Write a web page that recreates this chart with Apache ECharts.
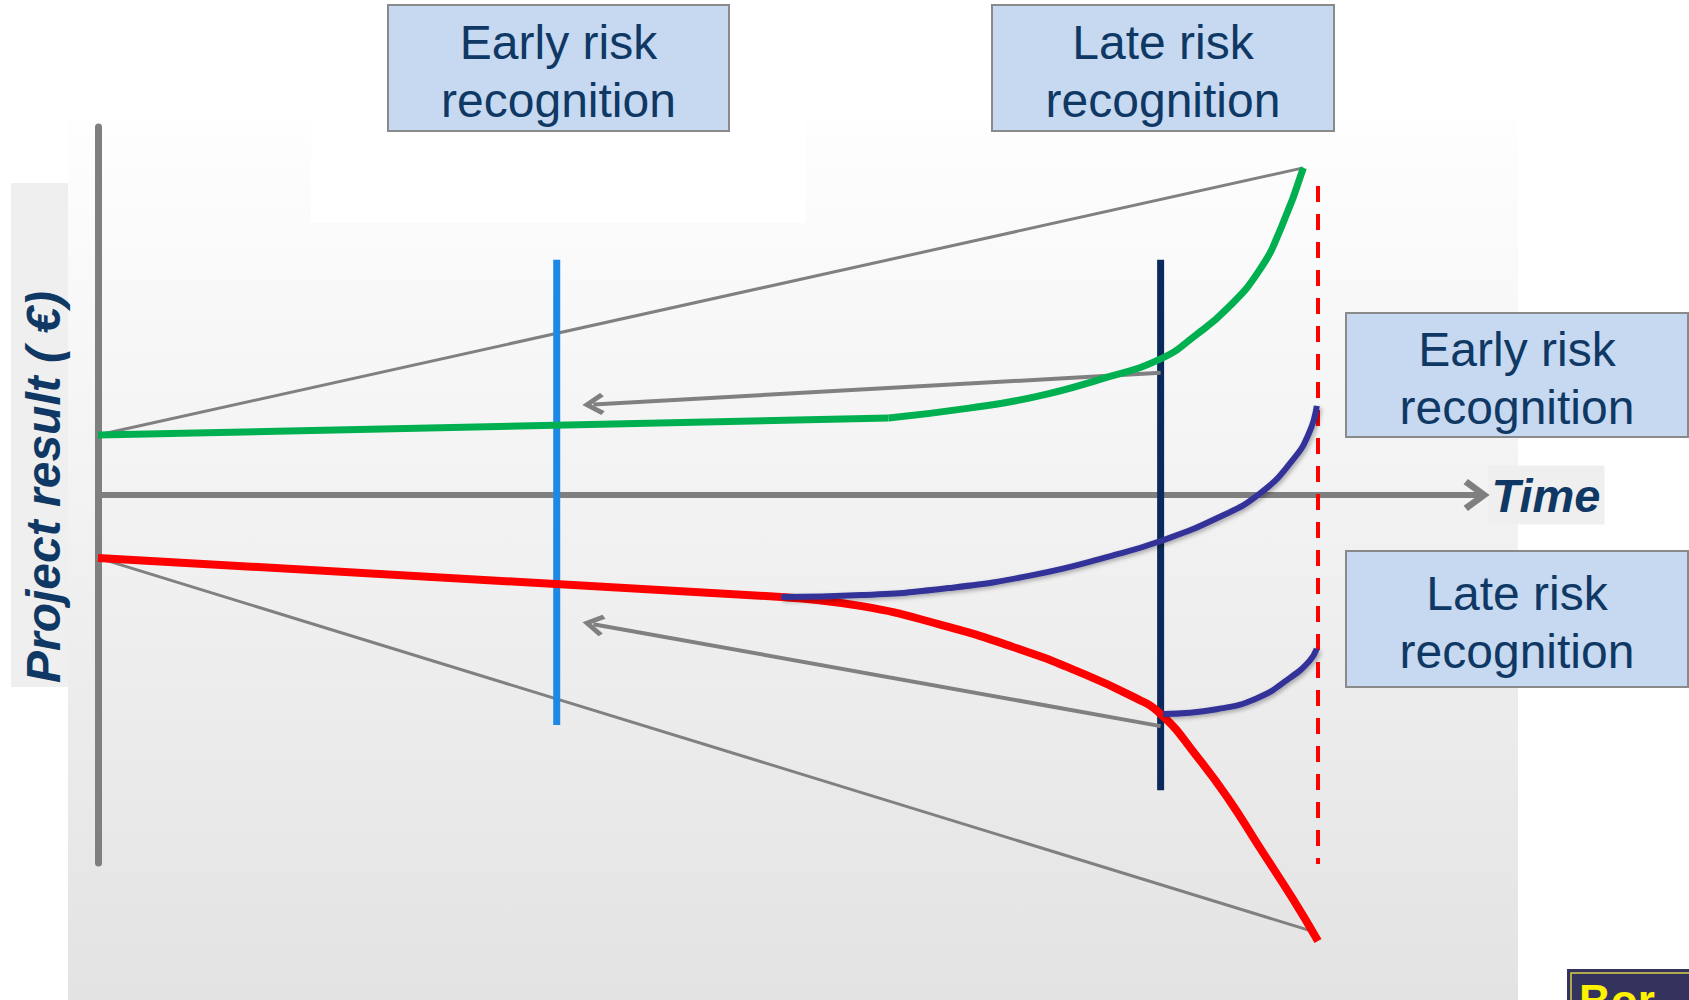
<!DOCTYPE html>
<html>
<head>
<meta charset="utf-8">
<title>Project result over time</title>
<script src="https://cdn.jsdelivr.net/npm/echarts@6/dist/echarts.min.js"></script>
<style>
  html, body { margin: 0; padding: 0; background: #ffffff; }
  #chart { width: 1689px; height: 1000px; }
</style>
</head>
<body>
<div id="chart"></div>
<script>
// Time runs 0..113 (100 = project end); project result runs -100..100 around plan (0).

// Axis titles and box captions
const yTitle = 'Project result ( €)';
const xTitle = 'Time';
const boxCaptions = ['Early risk\nrecognition', 'Late risk\nrecognition', 'Early risk\nrecognition', 'Late risk\nrecognition'];

// Favourable course: flat at first, then rising sharply towards the end
const greenPlan = [[0, 16.3], [64.8, 20.9]];
const greenRise = [[64.8, 20.9], [71.4, 23.6], [76.7, 26.6], [82.0, 31.3], [87.1, 37.0], [90.0, 43.5],
                   [92.6, 50.8], [95.2, 61.1], [97.0, 72.8], [98.8, 88.9]];

// Unfavourable course: slowly falling, then dropping steeply
const redPlan = [[0, -17.1], [56.0, -27.7]];
const redFall = [[56.0, -27.7], [62.6, -30.2], [68.8, -35.0], [75.0, -41.3], [80.2, -47.8], [84.7, -54.6],
                 [87.1, -59.5], [90.0, -70.7], [92.6, -82.3], [95.2, -95.7], [98.0, -110.1], [100, -121.2]];

// Corrected courses after recognising the risk early / late
const earlyRecovery = [[56.0, -27.7], [62.6, -27.2], [69.7, -25.3], [76.7, -21.7], [83.0, -16.6], [87.1, -12.5],
                       [91.7, -6.3], [95.2, 0.3], [98.0, 9.8], [99.3, 17.1], [99.9, 24.2]];
const lateRecovery = [[87.3, -59.5], [91.7, -58.2], [95.0, -55.2], [97.7, -49.7], [99.3, -45.1], [99.9, -41.8]];

// Outer envelope of possible results
const upperBound = [[0, 16.3], [98.8, 88.9]];
const lowerBound = [[0, -17.1], [99.5, -118.5]];

// Moments of recognition and project end
const earlyMark = [[37.6, 63.9], [37.6, -62.5]];
const lateMark = [[87.1, 63.9], [87.1, -80.2]];
const projectEnd = [[100, 84.0], [100, -100.3]];

// Arrows shifting recognition from late to early
const shiftArrows = [
  [[87.1, 33.2], [40.6, 24.6]],
  [[87.1, -62.8], [40.6, -35.1]]
];

const FONT = "'Liberation Sans', Arial, Helvetica, sans-serif";
const NAVY_TEXT = '#0f3864';
const GRAY = '#808080';
const CHEVRON = 'path://M11,0 L22,15 L18.5,18 L11,7.5 L3.5,18 L0,15 Z';

function lineSeries(data, color, width, extra) {
  return Object.assign({
    type: 'line',
    data: data,
    symbol: 'none',
    showSymbol: false,
    clip: false,
    silent: true,
    lineStyle: { color: color, width: width, cap: 'butt' },
    z: 3
  }, extra || {});
}

const curveShadow = { shadowColor: 'rgba(0,0,0,0.3)', shadowBlur: 4, shadowOffsetX: 2, shadowOffsetY: 2 };

// Caption boxes (layout only)
const boxLayout = [
  { x: 388, y: 5, w: 341, h: 126 },
  { x: 992, y: 5, w: 342, h: 126 },
  { x: 1346, y: 313, w: 342, h: 124 },
  { x: 1346, y: 551, w: 342, h: 136 }
];

const graphics = [
  // shaded backdrop
  {
    type: 'rect', z: -10, silent: true,
    shape: { x: 68, y: 117, width: 1450, height: 883 },
    style: { fill: { type: 'linear', x: 0, y: 0, x2: 0, y2: 1,
      colorStops: [{ offset: 0, color: '#fefefe' }, { offset: 1, color: '#e3e3e3' }] } }
  },
  { type: 'rect', z: -9, silent: true, shape: { x: 311, y: 117, width: 495, height: 106 }, style: { fill: '#ffffff' } },
  // panel behind the vertical title
  { type: 'rect', z: -9, silent: true, shape: { x: 11, y: 183, width: 57, height: 504 }, style: { fill: '#efefef' } },
  // corner badge
  { type: 'rect', z: 10, silent: true, shape: { x: 1567, y: 969, width: 130, height: 40 }, style: { fill: '#33335e' } },
  { type: 'rect', z: 11, silent: true, shape: { x: 1571, y: 973, width: 130, height: 40 }, style: { fill: 'none', stroke: '#d9cf4a', lineWidth: 1.5 } },
  { type: 'text', z: 12, silent: true, style: { text: 'Bor', x: 1579, y: 978, fill: '#fff200', fontSize: 44, fontWeight: 'bold', fontFamily: FONT, align: 'left', verticalAlign: 'top' } }
];

boxLayout.forEach(function (b, i) {
  graphics.push({
    type: 'rect', z: 20, silent: true,
    shape: { x: b.x, y: b.y, width: b.w, height: b.h },
    style: { fill: '#c6d9f1', stroke: '#8a8a8a', lineWidth: 2 }
  });
  graphics.push({
    type: 'text', z: 21, silent: true,
    style: {
      text: boxCaptions[i], x: b.x + b.w / 2, y: b.y + b.h / 2 + 3,
      fill: NAVY_TEXT, fontSize: 48, fontFamily: FONT, lineHeight: 58,
      align: 'center', verticalAlign: 'middle'
    }
  });
});

const chart = echarts.init(document.getElementById('chart'), null, { renderer: 'svg' });

chart.setOption({
  animation: false,
  backgroundColor: '#ffffff',
  grid: { left: 98, right: 212.4, top: 127, bottom: 137, containLabel: false },
  xAxis: {
    type: 'value', min: 0, max: 113,
    name: xTitle, nameLocation: 'end', nameGap: 11,
    nameTextStyle: {
      color: NAVY_TEXT, fontSize: 47, fontWeight: 'bold', fontStyle: 'italic', fontFamily: FONT,
      lineHeight: 47, backgroundColor: '#efefef', padding: [6, 4, 6, 4], align: 'left', verticalAlign: 'middle'
    },
    axisLine: {
      show: true, onZero: true,
      symbol: ['none', CHEVRON], symbolSize: [32, 26],
      lineStyle: { color: '#7f7f7f', width: 6 }
    },
    axisTick: { show: false }, axisLabel: { show: false }, splitLine: { show: false }
  },
  yAxis: {
    type: 'value', min: -100, max: 100,
    name: yTitle, nameLocation: 'middle', nameRotate: 90, nameGap: 30,
    nameTextStyle: {
      color: NAVY_TEXT, fontSize: 48, fontWeight: 'bold', fontStyle: 'italic', fontFamily: FONT,
      lineHeight: 50, padding: [0, 0, 0, 16]
    },
    axisLine: { show: true, onZero: true, lineStyle: { color: '#7f7f7f', width: 7 } },
    axisTick: { show: false }, axisLabel: { show: false }, splitLine: { show: false }
  },
  graphic: graphics,
  series: [
    lineSeries(upperBound, GRAY, 3, { z: 2 }),
    lineSeries(lowerBound, GRAY, 3, { z: 2 }),
    lineSeries(earlyMark, '#1e88e5', 7, { z: 2 }),
    lineSeries(lateMark, '#0b2a5b', 7, { z: 2 }),
    lineSeries(projectEnd, '#ff0000', 4, { z: 2, lineStyle: { color: '#ff0000', width: 4, type: [16, 12] } }),
    {
      type: 'lines', coordinateSystem: 'cartesian2d', silent: true, clip: false, z: 3,
      symbol: ['none', CHEVRON], symbolSize: [27, 22],
      lineStyle: { color: GRAY, width: 4, opacity: 1 },
      itemStyle: { color: GRAY },
      data: shiftArrows.map(function (a) { return { coords: a }; })
    },
    lineSeries(greenPlan, '#00b050', 7),
    lineSeries(greenRise, '#00b050', 7, { smooth: 0.5 }),
    lineSeries(redPlan, '#ff0000', 8),
    lineSeries(redFall, '#ff0000', 8, { smooth: 0.5 }),
    lineSeries(earlyRecovery, '#333399', 6, {
      smooth: 0.5, z: 4,
      lineStyle: Object.assign({ color: '#333399', width: 6 }, curveShadow)
    }),
    lineSeries(lateRecovery, '#333399', 6, {
      smooth: 0.5, z: 4,
      lineStyle: Object.assign({ color: '#333399', width: 6 }, curveShadow)
    })
  ]
});
</script>
</body>
</html>
